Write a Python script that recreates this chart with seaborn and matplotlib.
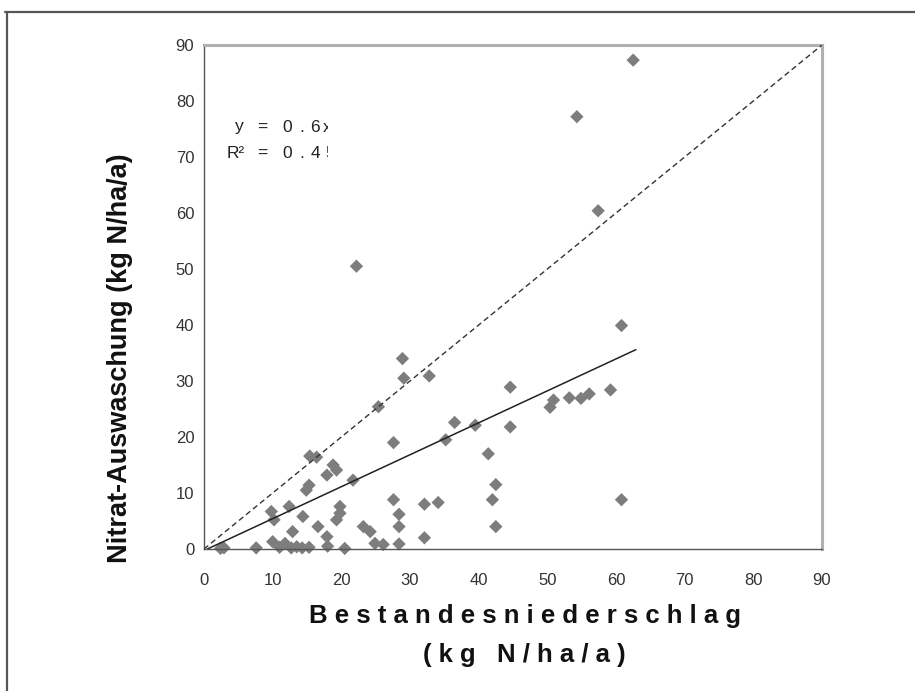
import numpy as np
import pandas as pd
import matplotlib
matplotlib.use("Agg")
import matplotlib.pyplot as plt
import seaborn as sns
from matplotlib.lines import Line2D
from matplotlib.patches import Rectangle

# Bestandesniederschlag (x) vs. Nitrat-Auswaschung (y), kg N/ha/a
deposition = [
    62.5, 54.3, 57.4, 60.8, 60.8, 22.2, 28.9, 29.1, 32.8, 25.4,
    44.6, 50.4, 50.9, 53.2, 54.9, 56.1, 59.2, 36.5, 39.5, 35.2,
    44.6, 27.6, 41.4, 42.5, 42.0, 42.5, 27.6, 28.4, 28.4, 28.4,
    32.1, 34.1, 32.1, 26.1, 24.9, 15.4, 16.4, 18.8, 19.3, 17.9,
    14.9, 15.3, 9.8, 10.2, 12.4, 14.4, 16.6, 12.9, 19.8, 19.8,
    19.3, 21.7, 23.2, 24.2, 20.5, 17.9, 2.4, 2.9, 7.6, 10.0,
    11.0, 11.8, 12.7, 13.5, 14.3, 15.3, 18.0,
]
leaching = [
    87.3, 77.2, 60.4, 39.9, 8.8, 50.5, 34.0, 30.5, 30.9, 25.4,
    28.9, 25.3, 26.6, 27.0, 26.9, 27.7, 28.4, 22.6, 22.1, 19.5,
    21.8, 19.0, 17.0, 11.5, 8.8, 4.0, 8.8, 6.2, 4.0, 0.9,
    8.0, 8.3, 2.0, 0.8, 1.0, 16.6, 16.4, 15.0, 14.1, 13.2,
    10.5, 11.4, 6.7, 5.2, 7.6, 5.8, 4.0, 3.1, 7.6, 6.4,
    5.2, 12.3, 4.0, 3.1, 0.1, 2.2, 0.1, 0.2, 0.2, 1.3,
    0.3, 1.0, 0.2, 0.4, 0.2, 0.3, 0.5,
]

# trend line (solid) and 1:1 line (dashed), end points
trend_x = [0.5, 62.9]
trend_y = [0.0, 35.6]
one_to_one = [0, 90]

ticks = list(range(0, 100, 10))
eq_row1 = ["y", "=", "0", ".", "6", "x"]
eq_row2 = ["R\u00b2", "=", "0", ".", "4", "5"]

df = pd.DataFrame({"x": deposition, "y": leaching})

sns.set_style("white")
plt.rcParams["font.family"] = ["Liberation Sans", "DejaVu Sans"]

W, H = 915, 691
fig = plt.figure(figsize=(W / 100, H / 100), dpi=100)
ax = fig.add_axes([204 / W, 1 - 549 / H, 618 / W, 504 / H])

sns.scatterplot(data=df, x="x", y="y", marker="D", s=46, color="#7d7d7d",
                edgecolor="none", ax=ax, clip_on=False, zorder=2)
ax.plot(one_to_one, one_to_one, color="#333333", lw=1.0, ls=(0, (4, 2.5)), zorder=3)
ax.plot(trend_x, trend_y, color="#222222", lw=1.1, zorder=3)

ax.set_xlim(0, 90)
ax.set_ylim(0, 90)
ax.set_xticks(ticks)
ax.set_yticks(ticks)
ax.set_xlabel("")
ax.set_ylabel("")
ax.tick_params(direction="out", length=4, width=0.8, color="#555555",
               labelsize=12, labelcolor="#333333")
ax.tick_params(axis="x", pad=13)
ax.tick_params(axis="y", pad=3)

for side in ["left", "bottom"]:
    ax.spines[side].set_color("#555555")
    ax.spines[side].set_linewidth(1.0)
for side in ["top", "right"]:
    ax.spines[side].set_color("#b0b0b0")
    ax.spines[side].set_linewidth(2.2)

# equation text, letter-spaced; the last character is cut off like in the original
xs1 = [239, 262, 287, 302, 315, 327]
xs2 = [236, 262, 287, 302, 315, 330]
for chars, xs, yp in [(eq_row1, xs1, 127), (eq_row2, xs2, 153)]:
    for ch, xp in zip(chars, xs):
        fig.text(xp / W, 1 - yp / H, ch, fontsize=12.5, color="#222222",
                 ha="center", va="center")
fig.add_artist(Rectangle((328 / W, 1 - 170 / H), 20 / W, 60 / H,
                         transform=fig.transFigure, facecolor="white",
                         edgecolor="none", zorder=10))

fig.text(120 / W, 1 - 358 / H, "Nitrat-Auswaschung (kg N/ha/a)", rotation=90,
         fontsize=19.5, fontweight="bold", ha="center", va="center", color="#111111")
fig.text(525 / W, 1 - 616 / H, " ".join("Bestandesniederschlag"),
         fontsize=18.5, fontweight="bold", ha="center", va="center", color="#111111")
fig.text(524 / W, 1 - 655 / H, "( k g   N / h a / a )",
         fontsize=18.5, fontweight="bold", ha="center", va="center", color="#111111")

# outer frame (top and left edge only)
fig.add_artist(Line2D([5 / W, 1], [1 - 12 / H, 1 - 12 / H], transform=fig.transFigure,
                      color="#555555", lw=1.6))
fig.add_artist(Line2D([7 / W, 7 / W], [1 - 12 / H, 0], transform=fig.transFigure,
                      color="#555555", lw=1.6))

fig.savefig("out.png", dpi=100)
